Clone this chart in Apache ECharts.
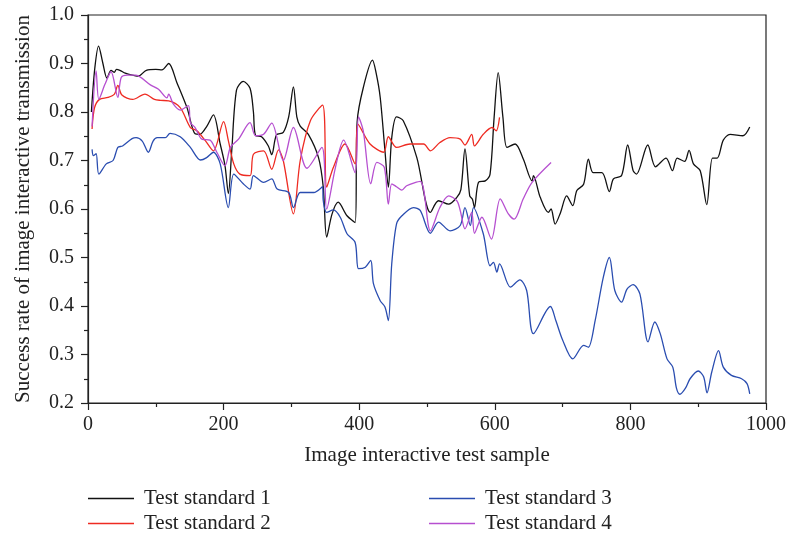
<!DOCTYPE html>
<html><head><meta charset="utf-8">
<script src="https://cdn.jsdelivr.net/npm/echarts@6/dist/echarts.min.js"></script>
<style>html,body{margin:0;padding:0;background:#fff}#c{width:787px;height:533px}</style>
</head><body><div id="c"></div>
<script>
const seriesNames = ['Test standard 1','Test standard 2','Test standard 3','Test standard 4'];
const xTicks = [0,200,400,600,800,1000];
const yTicks = [0.2,0.3,0.4,0.5,0.6,0.7,0.8,0.9,1.0];
const s1 = [[5,0.80],[10,0.89],[15.6,0.936],[22,0.90],[28,0.87],[34,0.886],[39,0.882],[42,0.888],[47,0.886],[55,0.88],[62,0.877],[74,0.874],[86,0.886],[100,0.888],[109,0.887],[119,0.90],[131,0.861],[146,0.809],[158,0.755],[165,0.754],[175,0.77],[185,0.794],[195,0.734],[202,0.69],[207,0.632],[212,0.72],[219,0.845],[229,0.863],[239,0.849],[244,0.80],[247,0.752],[256,0.749],[266,0.73],[271,0.712],[278,0.753],[288,0.758],[296,0.79],[303,0.852],[308,0.79],[313,0.771],[325,0.754],[340,0.706],[347,0.645],[352,0.542],[360,0.59],[369,0.614],[382,0.586],[394,0.572],[397,0.78],[406,0.85],[419.6,0.907],[425,0.88],[431,0.83],[438,0.72],[443,0.645],[448,0.747],[455,0.79],[465,0.782],[485,0.706],[505,0.593],[517,0.617],[532,0.61],[544,0.624],[550,0.64],[556,0.724],[563,0.627],[567,0.62],[570,0.603],[576,0.655],[586,0.658],[593,0.672],[599,0.789],[605,0.881],[612,0.789],[618,0.727],[630,0.734],[642,0.703],[655,0.658],[657,0.669],[667,0.624],[679,0.593],[683,0.60],[689,0.569],[697,0.593],[706,0.627],[715,0.607],[721,0.638],[731,0.651],[738,0.703],[745,0.675],[758,0.675],[769,0.636],[775,0.662],[787,0.669],[796,0.732],[804,0.679],[809,0.672],[825.6,0.732],[837,0.687],[852.6,0.705],[862,0.679],[869,0.705],[880,0.698],[886.5,0.721],[893,0.693],[903,0.679],[912.6,0.609],[921,0.705],[928,0.705],[937,0.742],[947,0.754],[966,0.751],[976,0.769]];
const s2 = [[6,0.765],[9.7,0.809],[17,0.826],[29.5,0.83],[39,0.837],[44,0.855],[50,0.835],[66,0.826],[84,0.837],[98,0.826],[107,0.824],[119,0.823],[136,0.809],[151,0.768],[161,0.761],[173,0.741],[185,0.72],[200,0.78],[207,0.741],[215,0.693],[224,0.672],[239,0.669],[244,0.713],[259,0.72],[271,0.682],[281,0.722],[288,0.70],[303,0.59],[313,0.70],[328,0.782],[346,0.814],[352,0.645],[362,0.686],[379,0.734],[394,0.693],[398,0.775],[416,0.734],[436,0.717],[443,0.749],[455,0.727],[475,0.734],[495,0.734],[505,0.72],[519,0.737],[534,0.747],[549,0.744],[556,0.732],[566,0.754],[570,0.73],[583,0.754],[596,0.768],[602,0.761],[607,0.789]];
const s3 = [[6,0.723],[8,0.71],[12,0.714],[16,0.672],[27,0.693],[37,0.70],[44,0.727],[51,0.73],[65,0.745],[71,0.747],[80,0.74],[89,0.717],[96,0.74],[102,0.747],[114,0.747],[121,0.756],[136,0.749],[151,0.727],[166,0.701],[175,0.706],[185,0.717],[195,0.693],[207,0.603],[215,0.672],[229,0.652],[239,0.641],[244,0.669],[259,0.655],[271,0.662],[279,0.641],[296,0.634],[303,0.603],[313,0.634],[333,0.634],[346,0.646],[347,0.617],[352,0.593],[362,0.598],[372,0.583],[382,0.549],[394,0.531],[399,0.477],[409,0.48],[417,0.494],[421,0.446],[431,0.411],[438,0.398],[443,0.37],[448,0.487],[455,0.569],[463,0.586],[480,0.603],[490,0.597],[505,0.55],[517,0.573],[534,0.555],[549,0.566],[556,0.603],[564,0.566],[568.5,0.603],[583,0.549],[593,0.483],[598,0.49],[603,0.47],[607,0.487],[623,0.439],[637,0.454],[647,0.432],[657,0.343],[682,0.399],[690,0.37],[700,0.33],[715,0.291],[731,0.319],[738,0.315],[748,0.37],[760,0.459],[769,0.5],[777,0.432],[787,0.408],[795,0.435],[804,0.444],[814,0.425],[826,0.326],[836,0.367],[844,0.343],[854,0.291],[862.5,0.274],[868,0.23],[873,0.218],[881,0.23],[888,0.25],[900,0.266],[908,0.254],[913,0.221],[920,0.264],[930,0.308],[937,0.274],[949,0.257],[964,0.25],[972,0.24],[976,0.219]];
const s4 = [[6,0.77],[12,0.885],[16,0.826],[25,0.857],[34,0.883],[44,0.83],[49,0.871],[58,0.876],[70,0.876],[92,0.856],[104,0.847],[116.5,0.829],[119,0.837],[126,0.816],[136,0.804],[148,0.813],[151,0.778],[158,0.768],[168,0.744],[180,0.742],[190,0.717],[202,0.689],[210,0.727],[222,0.744],[239,0.778],[247,0.751],[259,0.754],[271,0.777],[288,0.70],[303,0.768],[323,0.684],[345,0.727],[352,0.60],[365,0.686],[377,0.742],[394,0.675],[399,0.79],[406,0.761],[417,0.652],[426,0.696],[437,0.686],[443,0.61],[448,0.652],[455,0.646],[463,0.639],[470,0.648],[490,0.657],[505,0.555],[519,0.603],[532,0.627],[544,0.617],[549,0.597],[556,0.559],[566,0.593],[570,0.55],[581,0.583],[595,0.538],[608,0.621],[620,0.59],[628.5,0.579],[642,0.621],[655,0.655],[683,0.696]];
const colors = ['#111111','#ee2b22','#2a4db0','#b64fd0'];

const FONT = 'Liberation Serif';
const chart = echarts.init(document.getElementById('c'), null, {renderer:'canvas'});
const axisCommon = {
  axisLine:{show:true, lineStyle:{color:'#222', width:1.2}},
  axisTick:{show:true, inside:false, length:7, lineStyle:{color:'#222', width:1.2}},
  minorTick:{show:true, splitNumber:2, length:4, lineStyle:{color:'#222', width:1.2}},
  splitLine:{show:false},
  nameTextStyle:{fontFamily:FONT, fontSize:21, color:'#222'}
};
const mk = (i, data) => ({
  name: seriesNames[i], type:'line', data, showSymbol:false, symbol:'none', smooth:0.3,
  lineStyle:{color:colors[i], width:1.3}, itemStyle:{color:colors[i]}, animation:false
});
const legendPos = [[88,488],[88,513],[429,488],[429,513]];
const legends = seriesNames.map((n,i)=>({
  data:[n], left:legendPos[i][0], top:legendPos[i][1], itemWidth:46, itemHeight:1.5, icon:'rect',
  padding:0, textStyle:{fontFamily:FONT, fontSize:21, color:'#222', padding:[0,0,0,5]}
}));
chart.setOption({
  animation:false,
  backgroundColor:'#fff',
  grid:{left:88, right:21, top:15, bottom:130, show:true, borderColor:'#222', borderWidth:1.2, containLabel:false, outerBoundsMode:'none'},
  xAxis: Object.assign({}, axisCommon, {
    type:'value', min:xTicks[0], max:xTicks[xTicks.length-1], interval:200,
    name:'Image interactive test sample', nameLocation:'middle', nameGap:42,
    axisLabel:{fontFamily:FONT, fontSize:20, color:'#222', margin:12, formatter:v=>String(v)}
  }),
  yAxis: Object.assign({}, axisCommon, {
    type:'value', min:yTicks[0], max:yTicks[yTicks.length-1], interval:0.1,
    name:'Success rate of image interactive transmission', nameLocation:'middle', nameGap:54,
    axisLabel:{fontFamily:FONT, fontSize:20, color:'#222', margin:14, formatter:v=>v.toFixed(1)}
  }),
  legend:legends,
  series:[mk(0,s1), mk(1,s2), mk(2,s3), mk(3,s4)]
});
</script></body></html>
